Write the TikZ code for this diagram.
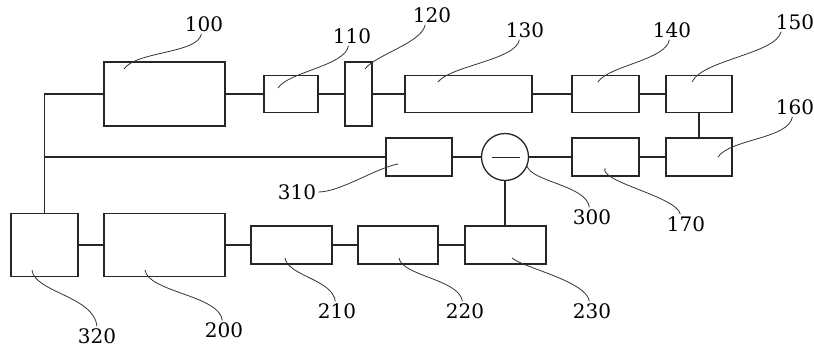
\documentclass[tikz,border=0pt]{standalone}
\usepackage{fontspec}
\setmainfont{DejaVu Serif}
\usepackage{tikz}
\usetikzlibrary{calc}
\tikzset{
  unit/.style={draw=black!85,line width=1.3pt,inner sep=0pt,fill=white},
  ring/.style={draw=black!85,line width=1.3pt,circle,inner sep=0pt,minimum size=47pt},
  wire/.style={line width=1.3pt,draw=black!85},
  lead/.style={line width=0.8pt,draw=black!80},
  num/.style={font=\fontsize{20}{24}\selectfont,inner sep=2pt}
}
\begin{document}
\begin{tikzpicture}[x=1pt,y=-1pt]
    \useasboundingbox (0,0) rectangle (814,354);
    \node[unit,minimum width=121pt,minimum height=64pt] (b100) at (164.5,94) {};
    \node[unit,minimum width=54pt,minimum height=37pt] (b110) at (291,94) {};
    \node[unit,minimum width=27pt,minimum height=64pt] (b120) at (358.5,94) {};
    \node[unit,minimum width=127pt,minimum height=37pt] (b130) at (468.5,94) {};
    \node[unit,minimum width=67pt,minimum height=37pt] (b140) at (605.5,94) {};
    \node[unit,minimum width=66pt,minimum height=37pt] (b150) at (699,94) {};
    \node[unit,minimum width=66pt,minimum height=38pt] (b160) at (699,157) {};
    \node[unit,minimum width=67pt,minimum height=38pt] (b170) at (605.5,157) {};
    \node[ring] (c300) at (505,157) {};
    \node[unit,minimum width=66pt,minimum height=38pt] (b310) at (419,157) {};
    \node[unit,minimum width=67pt,minimum height=63pt] (b320) at (44.5,245) {};
    \node[unit,minimum width=121pt,minimum height=63pt] (b200) at (164.5,245) {};
    \node[unit,minimum width=81pt,minimum height=38pt] (b210) at (291.5,245) {};
    \node[unit,minimum width=80pt,minimum height=38pt] (b220) at (398,245) {};
    \node[unit,minimum width=81pt,minimum height=38pt] (b230) at (505.5,245) {};

    \draw[wire] (b320.north) |- (b100.west);
    \draw[wire] (b320.north |- b310.west) -- (b310.west);
    \draw[wire] (b100) -- (b110);
    \draw[wire] (b110) -- (b120);
    \draw[wire] (b120) -- (b130);
    \draw[wire] (b130) -- (b140);
    \draw[wire] (b140) -- (b150);
    \draw[wire] (b150) -- (b160);
    \draw[wire] (b160) -- (b170);
    \draw[wire] (b170) -- (c300);
    \draw[wire] (c300) -- (b310);
    \draw[wire,line width=1pt] ($(c300.center)+(-13,0)$) -- ($(c300.center)+(15,0)$);
    \draw[wire] (c300.south) -- (c300.south |- b230.north);
    \draw[wire] (b320) -- (b200);
    \draw[wire] (b200) -- (b210);
    \draw[wire] (b210) -- (b220);
    \draw[wire] (b220) -- (b230);

    \node[num] (n100) at (204,24) {100};
    \node[num] (n110) at (352,36) {110};
    \node[num] (n120) at (432,15) {120};
    \node[num] (n130) at (525,30) {130};
    \node[num] (n140) at (672,30) {140};
    \node[num] (n150) at (795,22) {150};
    \node[num] (n160) at (795,107) {160};
    \node[num] (n170) at (686,224) {170};
    \node[num] (n300) at (592,217) {300};
    \node[num] (n310) at (297,192) {310};
    \node[num] (n320) at (97,336) {320};
    \node[num] (n200) at (224,330) {200};
    \node[num] (n210) at (337,311) {210};
    \node[num] (n220) at (465,311) {220};
    \node[num] (n230) at (592,311) {230};

    \coordinate (t100) at (124,69);
    \coordinate (t110) at (278,88);
    \coordinate (t120) at (365,69);
    \coordinate (t130) at (438,82);
    \coordinate (t140) at (598,82);
    \coordinate (t150) at (692,82);
    \coordinate (t160) at (718,157);
    \coordinate (t170) at (605,168);
    \coordinate (t300) at (527,166);
    \coordinate (t310) at (398,164);
    \coordinate (t320) at (32,270);
    \coordinate (t200) at (145,270);
    \coordinate (t210) at (285,258);
    \coordinate (t220) at (399,258);
    \coordinate (t230) at (512,258);

    \draw[lead] (n100.255) .. controls +(-3,20) and +(12,-18) .. (t100);
    \draw[lead] (n110.250) .. controls +(-3,20) and +(10,-16) .. (t110);
    \draw[lead] (n120.235) .. controls +(-3,18) and +(10,-14) .. (t120);
    \draw[lead] (n130.240) .. controls +(-3,20) and +(12,-16) .. (t130);
    \draw[lead] (n140.255) .. controls +(-3,20) and +(10,-16) .. (t140);
    \draw[lead] (n150.215) .. controls +(-5,22) and +(10,-22) .. (t150);
    \draw[lead] (n160.255) .. controls +(-3,22) and +(12,-18) .. (t160);
    \draw[lead] (n170.120) .. controls +(-4,-18) and +(-6,14) .. (t170);
    \draw[lead] (n300.105) .. controls +(-3,-22) and +(5,16) .. (t300);
    \draw[lead] (n310.east) .. controls +(22,0) and +(-22,4) .. (t310);
    \draw[lead] (n320.north) .. controls +(-3,-30) and +(2,22) .. (t320);
    \draw[lead] (n200.100) .. controls +(-3,-25) and +(3,22) .. (t200);
    \draw[lead] (n210.100) .. controls +(-3,-22) and +(3,18) .. (t210);
    \draw[lead] (n220.105) .. controls +(-3,-22) and +(3,18) .. (t220);
    \draw[lead] (n230.105) .. controls +(-3,-20) and +(12,10) .. (t230);
\end{tikzpicture}
\end{document}
